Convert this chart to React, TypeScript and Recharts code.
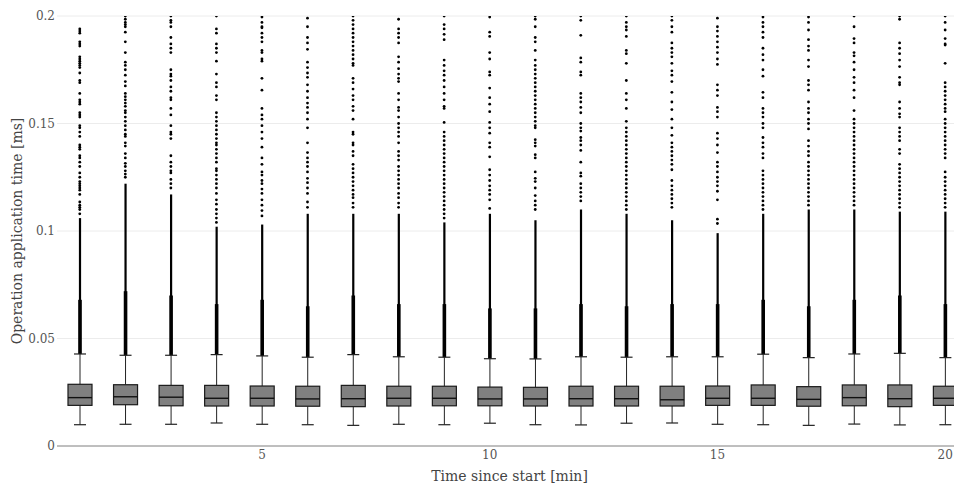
import { ComposedChart, Bar, Scatter, XAxis, YAxis, CartesianGrid } from 'recharts';

// box statistics per minute, values in ms
const minutes = [1, 2, 3, 4, 5, 6, 7, 8, 9, 10, 11, 12, 13, 14, 15, 16, 17, 18, 19, 20];
const whiskerLow = [0.0099, 0.0101, 0.0101, 0.0107, 0.0101, 0.0099, 0.0096, 0.0101, 0.0099, 0.0106, 0.0099, 0.0098, 0.0106, 0.0107, 0.0101, 0.0099, 0.0096, 0.0102, 0.0098, 0.0099];
const q1 = [0.0189, 0.0192, 0.0187, 0.0186, 0.0186, 0.0185, 0.0183, 0.0186, 0.0187, 0.0187, 0.0186, 0.0186, 0.0186, 0.0186, 0.0189, 0.0189, 0.0185, 0.0187, 0.0183, 0.0189];
const median = [0.0225, 0.0229, 0.0227, 0.0222, 0.0222, 0.0219, 0.022, 0.0222, 0.0222, 0.0219, 0.0219, 0.022, 0.022, 0.0215, 0.0222, 0.0222, 0.0217, 0.0225, 0.022, 0.0222];
const q3 = [0.0287, 0.0285, 0.0282, 0.0282, 0.0279, 0.0278, 0.0282, 0.0278, 0.0278, 0.0274, 0.0273, 0.0278, 0.0278, 0.0278, 0.0279, 0.0284, 0.0276, 0.0284, 0.0284, 0.0278];
const whiskerHigh = [0.0428, 0.0422, 0.0422, 0.0425, 0.0419, 0.0413, 0.0425, 0.0415, 0.0413, 0.0406, 0.0405, 0.0415, 0.0413, 0.0415, 0.0415, 0.0427, 0.0411, 0.0428, 0.0431, 0.0411];

// outliers too dense to tell apart: solid run above the whisker, then a packed run
const solidTop = [0.068, 0.072, 0.07, 0.066, 0.068, 0.065, 0.07, 0.066, 0.066, 0.064, 0.064, 0.066, 0.065, 0.066, 0.066, 0.068, 0.065, 0.068, 0.07, 0.066];
const denseTop = [0.106, 0.122, 0.117, 0.102, 0.103, 0.108, 0.108, 0.108, 0.104, 0.108, 0.105, 0.11, 0.108, 0.105, 0.099, 0.108, 0.11, 0.11, 0.109, 0.109];

// separate outliers above the packed run
const outliers: number[][] = [
  [0.194, 0.193, 0.192, 0.188, 0.187, 0.186, 0.181, 0.18, 0.179, 0.178, 0.177, 0.176, 0.1735, 0.17, 0.169, 0.164, 0.161, 0.16, 0.159, 0.155, 0.154, 0.153, 0.149, 0.148, 0.146, 0.144, 0.14, 0.139, 0.138, 0.135, 0.134, 0.132, 0.13, 0.127, 0.125, 0.123, 0.122, 0.121, 0.12, 0.119, 0.117, 0.1135, 0.112, 0.111, 0.11, 0.108],
  [0.2, 0.1985, 0.197, 0.196, 0.195, 0.1925, 0.188, 0.183, 0.1785, 0.177, 0.175, 0.1725, 0.1695, 0.1675, 0.164, 0.1625, 0.161, 0.1595, 0.158, 0.156, 0.155, 0.153, 0.151, 0.149, 0.147, 0.145, 0.144, 0.141, 0.1395, 0.136, 0.134, 0.1315, 0.13, 0.128, 0.1265, 0.125],
  [0.2, 0.198, 0.197, 0.195, 0.19, 0.187, 0.185, 0.183, 0.175, 0.173, 0.172, 0.17, 0.167, 0.165, 0.162, 0.161, 0.157, 0.154, 0.149, 0.146, 0.145, 0.143, 0.135, 0.132, 0.13, 0.128, 0.127, 0.124, 0.122, 0.12],
  [0.2, 0.194, 0.192, 0.187, 0.185, 0.183, 0.179, 0.173, 0.169, 0.167, 0.163, 0.161, 0.155, 0.153, 0.151, 0.149, 0.147, 0.145, 0.143, 0.141, 0.14, 0.138, 0.136, 0.134, 0.132, 0.129, 0.128, 0.126, 0.124, 0.122, 0.12, 0.1175, 0.1145, 0.1125, 0.11, 0.108, 0.106, 0.104],
  [0.1995, 0.197, 0.195, 0.1945, 0.192, 0.19, 0.188, 0.184, 0.183, 0.18, 0.179, 0.171, 0.1655, 0.157, 0.154, 0.152, 0.149, 0.146, 0.143, 0.139, 0.134, 0.131, 0.1275, 0.126, 0.1235, 0.122, 0.1195, 0.1175, 0.1145, 0.112, 0.1095, 0.107],
  [0.199, 0.195, 0.19, 0.1875, 0.1845, 0.1785, 0.176, 0.1735, 0.1715, 0.168, 0.165, 0.162, 0.1595, 0.1575, 0.155, 0.152, 0.148, 0.141, 0.1365, 0.134, 0.132, 0.13, 0.1275, 0.1245, 0.1225, 0.12, 0.1175, 0.1135, 0.111],
  [0.2, 0.198, 0.196, 0.194, 0.192, 0.19, 0.188, 0.186, 0.184, 0.182, 0.18, 0.178, 0.177, 0.171, 0.169, 0.166, 0.163, 0.161, 0.158, 0.156, 0.152, 0.146, 0.145, 0.141, 0.14, 0.137, 0.135, 0.131, 0.129, 0.127, 0.125, 0.123, 0.121, 0.119, 0.117, 0.1155, 0.113, 0.111],
  [0.1985, 0.194, 0.192, 0.19, 0.1875, 0.181, 0.1785, 0.1755, 0.173, 0.171, 0.1695, 0.164, 0.161, 0.1575, 0.156, 0.153, 0.15, 0.148, 0.146, 0.144, 0.141, 0.137, 0.135, 0.133, 0.13, 0.128, 0.126, 0.124, 0.122, 0.12, 0.1175, 0.1155, 0.113, 0.111],
  [0.2, 0.196, 0.194, 0.1915, 0.189, 0.1795, 0.177, 0.1745, 0.1725, 0.17, 0.167, 0.164, 0.161, 0.158, 0.157, 0.1505, 0.146, 0.144, 0.142, 0.14, 0.138, 0.136, 0.134, 0.132, 0.13, 0.128, 0.126, 0.124, 0.122, 0.12, 0.118, 0.116, 0.114, 0.112, 0.11, 0.108, 0.106],
  [0.1995, 0.1925, 0.1905, 0.183, 0.18, 0.174, 0.1725, 0.1665, 0.162, 0.159, 0.1555, 0.1505, 0.148, 0.1455, 0.141, 0.139, 0.1345, 0.1285, 0.126, 0.1235, 0.121, 0.119, 0.117, 0.1145, 0.1105],
  [0.2, 0.1985, 0.195, 0.19, 0.188, 0.184, 0.1795, 0.177, 0.175, 0.173, 0.171, 0.169, 0.167, 0.165, 0.163, 0.161, 0.159, 0.157, 0.155, 0.153, 0.151, 0.149, 0.148, 0.1425, 0.141, 0.1395, 0.1355, 0.134, 0.1275, 0.1245, 0.123, 0.12, 0.1165, 0.114, 0.112, 0.11],
  [0.2, 0.198, 0.191, 0.1805, 0.1785, 0.174, 0.1725, 0.164, 0.162, 0.16, 0.1575, 0.155, 0.15, 0.148, 0.1465, 0.1435, 0.142, 0.14, 0.1375, 0.132, 0.127, 0.1255, 0.122, 0.12, 0.118, 0.116, 0.114],
  [0.2, 0.197, 0.195, 0.1935, 0.1905, 0.184, 0.1825, 0.178, 0.17, 0.164, 0.161, 0.157, 0.151, 0.148, 0.146, 0.144, 0.142, 0.14, 0.138, 0.136, 0.134, 0.132, 0.13, 0.128, 0.126, 0.124, 0.122, 0.12, 0.118, 0.116, 0.114, 0.112, 0.11],
  [0.2, 0.198, 0.195, 0.1925, 0.1875, 0.185, 0.183, 0.181, 0.178, 0.1745, 0.1725, 0.1695, 0.1645, 0.16, 0.1565, 0.152, 0.148, 0.1445, 0.141, 0.139, 0.137, 0.135, 0.133, 0.131, 0.1285, 0.1235, 0.121, 0.119, 0.117, 0.115, 0.113, 0.111],
  [0.199, 0.195, 0.193, 0.1905, 0.188, 0.1855, 0.183, 0.18, 0.1775, 0.168, 0.1655, 0.163, 0.1575, 0.1555, 0.153, 0.1455, 0.143, 0.14, 0.1365, 0.132, 0.13, 0.1275, 0.125, 0.123, 0.121, 0.1185, 0.1145, 0.1055, 0.1035],
  [0.1995, 0.197, 0.195, 0.1925, 0.19, 0.185, 0.182, 0.1795, 0.175, 0.172, 0.1645, 0.162, 0.157, 0.155, 0.153, 0.15, 0.148, 0.1435, 0.141, 0.139, 0.136, 0.134, 0.128, 0.126, 0.124, 0.122, 0.12, 0.118, 0.116, 0.114, 0.112, 0.11],
  [0.1995, 0.197, 0.1935, 0.189, 0.186, 0.184, 0.1795, 0.1765, 0.17, 0.168, 0.1655, 0.16, 0.157, 0.155, 0.152, 0.15, 0.1475, 0.142, 0.1395, 0.137, 0.135, 0.132, 0.13, 0.128, 0.126, 0.124, 0.122, 0.12, 0.118, 0.116, 0.114, 0.112],
  [0.2, 0.195, 0.1895, 0.1875, 0.183, 0.1815, 0.1785, 0.175, 0.1715, 0.169, 0.1655, 0.162, 0.156, 0.152, 0.15, 0.148, 0.146, 0.144, 0.142, 0.14, 0.138, 0.136, 0.134, 0.132, 0.13, 0.128, 0.126, 0.124, 0.122, 0.12, 0.118, 0.116, 0.114, 0.112],
  [0.2, 0.1985, 0.1875, 0.185, 0.1825, 0.1795, 0.1765, 0.1715, 0.169, 0.168, 0.16, 0.157, 0.1545, 0.153, 0.148, 0.146, 0.144, 0.142, 0.138, 0.136, 0.131, 0.129, 0.127, 0.125, 0.123, 0.121, 0.119, 0.117, 0.115, 0.113, 0.111],
  [0.2, 0.197, 0.1935, 0.1895, 0.187, 0.1865, 0.178, 0.169, 0.167, 0.165, 0.163, 0.161, 0.159, 0.157, 0.1555, 0.152, 0.15, 0.148, 0.146, 0.144, 0.142, 0.14, 0.138, 0.136, 0.134, 0.1275, 0.125, 0.123, 0.121, 0.119, 0.117, 0.115, 0.113, 0.111],
];

const xTicks = [5, 10, 15, 20];
const yTicks = [0, 0.05, 0.1, 0.15, 0.2];

const FONT = '"DejaVu Serif", serif';

const boxRows = minutes.map((t, i) => ({
  t,
  lo: whiskerLow[i],
  q1: q1[i],
  med: median[i],
  q3: q3[i],
  hi: whiskerHigh[i],
  solid: solidTop[i],
  dense: denseTop[i],
}));

const outlierPoints = minutes.flatMap((t, i) => outliers[i].map((v) => ({ t, v })));

type BoxRow = (typeof boxRows)[number];

// one bar spans whiskerLow..denseTop, everything else is placed inside it on the same linear scale
function BoxShape(props: any) {
  const { x, y, width, height } = props;
  const row = props.payload as BoxRow;
  if (x == null || y == null || !height) return null;
  const py = (v: number) => y + (height * (row.dense - v)) / (row.dense - row.lo);
  const cx = x + width / 2;
  const cap = width / 2;
  return (
    <g>
      <rect x={cx - 1.1} y={py(row.dense)} width={2.2} height={py(row.hi) - py(row.dense)} fill="#000" />
      <rect x={cx - 1.8} y={py(row.solid)} width={3.6} height={py(row.hi) - py(row.solid)} fill="#000" />
      <line x1={cx} x2={cx} y1={py(row.hi)} y2={py(row.q3)} stroke="#222" strokeWidth={1} />
      <line x1={cx} x2={cx} y1={py(row.q1)} y2={py(row.lo)} stroke="#222" strokeWidth={1} />
      <line x1={cx - cap / 2} x2={cx + cap / 2} y1={py(row.hi)} y2={py(row.hi)} stroke="#222" strokeWidth={1.2} />
      <line x1={cx - cap / 2} x2={cx + cap / 2} y1={py(row.lo)} y2={py(row.lo)} stroke="#222" strokeWidth={1.2} />
      <rect x={x} y={py(row.q3)} width={width} height={py(row.q1) - py(row.q3)} fill="#808080" stroke="#1a1a1a" strokeWidth={1.2} />
      <line x1={x} x2={x + width} y1={py(row.med)} y2={py(row.med)} stroke="#111" strokeWidth={1.4} />
    </g>
  );
}

function Dot(props: any) {
  if (props.cx == null || props.cy == null) return null;
  return <circle cx={props.cx} cy={props.cy} r={1.4} fill="#000" />;
}

export default function App() {
  const tick = { fill: '#555', fontSize: 12, fontFamily: FONT };
  return (
    <ComposedChart width={954} height={481} data={boxRows} margin={{ top: 8, right: 0, bottom: 0, left: 0 }}>
      <CartesianGrid vertical={false} stroke="#ececec" />
      <XAxis
        dataKey="t"
        type="number"
        domain={[0.5, 20.37]}
        allowDataOverflow
        ticks={xTicks}
        interval={0}
        tick={tick}
        tickLine={false}
        tickSize={2}
        tickMargin={2}
        height={43}
        axisLine={{ stroke: '#888' }}
        label={{
          value: 'Time since start [min]',
          position: 'insideBottom',
          offset: 8,
          style: { fill: '#444', fontSize: 14, fontFamily: FONT },
        }}
      />
      <YAxis
        type="number"
        domain={[0, 0.2]}
        allowDataOverflow
        ticks={yTicks}
        interval={0}
        tick={tick}
        tickLine={false}
        tickSize={1}
        tickMargin={1}
        axisLine={false}
        width={49}
        label={{
          value: 'Operation application time [ms]',
          angle: -90,
          position: 'insideLeft',
          offset: 9,
          style: { textAnchor: 'middle', fill: '#444', fontSize: 14, fontFamily: FONT },
        }}
      />
      <Bar
        dataKey={(r: BoxRow) => [r.lo, r.dense]}
        barSize={24}
        shape={BoxShape}
        isAnimationActive={false}
      />
      <Scatter data={outlierPoints} dataKey="v" shape={Dot} isAnimationActive={false} />
    </ComposedChart>
  );
}
